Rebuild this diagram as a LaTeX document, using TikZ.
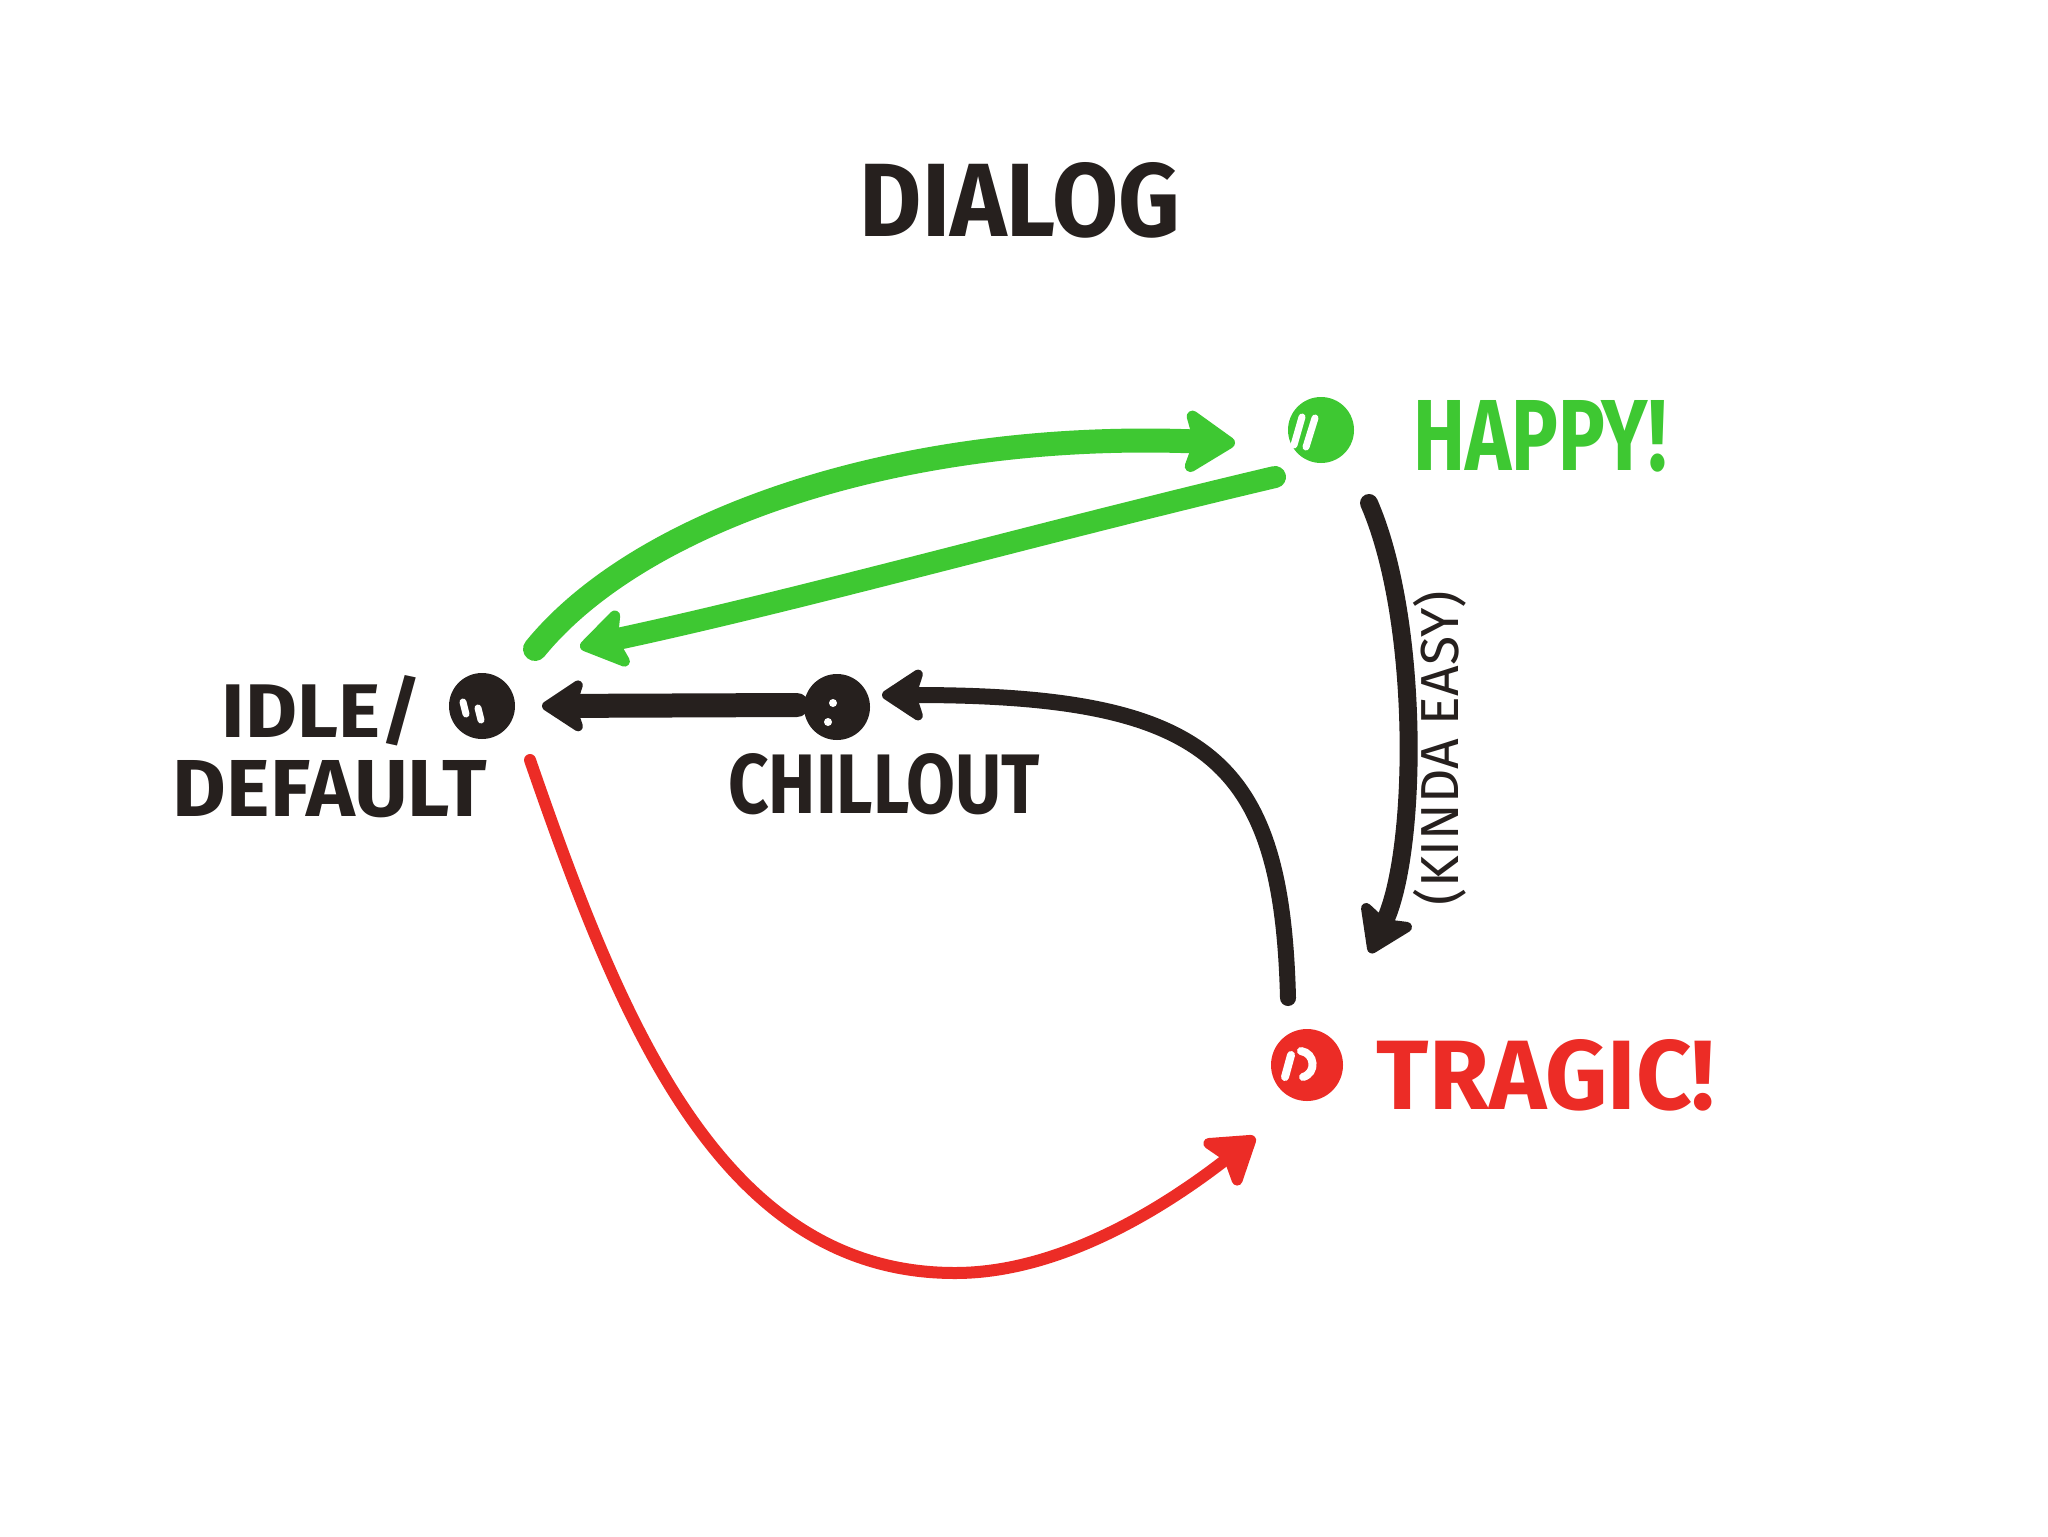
\documentclass[tikz,border=0pt]{standalone}
\usepackage{fontspec}
\setmainfont{Fira Sans}
\usetikzlibrary{arrows.meta}
\definecolor{mkgreen}{RGB}{62,200,50}
\definecolor{mkblack}{RGB}{38,32,30}
\definecolor{mkred}{RGB}{236,44,38}
\newcommand{\fitlabel}[3]{\resizebox{#1}{#2}{#3}}
\begin{document}
\begin{tikzpicture}[x=0.5pt,y=-0.5pt,
  statedot/.style={circle,inner sep=0pt,minimum size=33pt,fill=#1},
  statedot/.default=mkblack,
  lbl/.style={inner sep=0pt,anchor=center,text=#1,font=\bfseries},
  lbl/.default=mkblack,
  penline/.style={line cap=round,line join=round},
  gline/.style={penline,draw=mkgreen,line width=12pt},
  bline/.style={penline,draw=mkblack},
  rline/.style={penline,draw=mkred,line width=6pt},
  bigtip/.style={-{Stealth[length=#1,width=1.3*#1,inset=0.2*#1,round]}},
  eye/.style={draw=white,line width=3.5pt,line cap=round}
]
\fill[white] (0,0) rectangle (2048,1536);
\useasboundingbox (0,0) rectangle (2048,1536);

% title
\node[lbl] (title) at (1020,200) {\fitlabel{160pt}{37pt}{DIALOG}};

% state dots
\node[statedot=mkgreen] (happy) at (1321,430) {};
\node[statedot] (idle) at (482,706) {};
\node[statedot] (chill) at (837,707) {};
\node[statedot=mkred,minimum size=36pt] (tragic) at (1307,1065) {};

% marks inside the dots
\begin{scope}[shift={(happy.center)}]
  \draw[eye] (-27,15) -- (-19,-13);
  \draw[eye] (-15,17) -- (-6,-12);
\end{scope}
\begin{scope}[shift={(idle.center)}]
  \draw[eye] (-19,-4) -- (-16,8);
  \draw[eye] (-4,2) -- (-1,14);
\end{scope}
\begin{scope}[shift={(chill.center)}]
  \fill[white] (-4,-4) circle (2pt);
  \fill[white] (-9,15) circle (2pt);
\end{scope}
\begin{scope}[shift={(tragic.center)}]
  \draw[eye,line width=4pt] (-22,12) -- (-16,-10);
  \draw[eye,line width=4pt] (-6,-14) .. controls (8,-12) and (10,8) .. (-4,12);
\end{scope}

% labels
\node[lbl=mkgreen] (happylbl) at (1540,436) {\fitlabel{127pt}{35pt}{HAPPY!}};
\node[lbl] (idlelbl) at (322,711) {\fitlabel{100pt}{31pt}{IDLE/}};
\node[lbl] (defaultlbl) at (330,789) {\fitlabel{157pt}{28pt}{DEFAULT}};
\node[lbl] (chilllbl) at (884,784) {\fitlabel{156pt}{30pt}{CHILLOUT}};
\node[lbl=mkred] (tragiclbl) at (1546,1075) {\fitlabel{169pt}{35pt}{TRAGIC!}};
\node[lbl,font=\mdseries,rotate=90] (easylbl) at (1440,748) {\fitlabel{157pt}{!}{(KINDA EASY)}};

% connectors
\draw[gline,bigtip=29pt] ([shift={(53,-57)}]idle.center)
  .. controls (640,520) and (900,430) .. ([shift={(-86,13)}]happy.center);
\draw[gline,line width=11pt,bigtip=27pt] ([shift={(-46,47)}]happy.center)
  .. controls (1050,530) and (800,600) .. ([shift={(98,-59)}]idle.center);
\draw[bline,line width=12pt,bigtip=24pt] ([shift={(-40,-2)}]chill.center)
  -- ([shift={(60,0)}]idle.center);
\draw[bline,line width=8pt,bigtip=24pt] ([shift={(-19,-67)}]tragic.center)
  .. controls (1282,760) and (1210,695) .. ([shift={(45,-12)}]chill.center);
\draw[bline,line width=9pt,bigtip=26pt] ([shift={(48,73)}]happy.center)
  .. controls (1420,620) and (1418,850) .. ([shift={(63,-112)}]tragic.center);
\draw[rline,bigtip=27pt] ([shift={(48,54)}]idle.center)
  .. controls (620,1020) and (720,1273) .. (955,1273)
  .. controls (1070,1273) and (1180,1195) .. ([shift={(-52,72)}]tragic.center);
\end{tikzpicture}
\end{document}
